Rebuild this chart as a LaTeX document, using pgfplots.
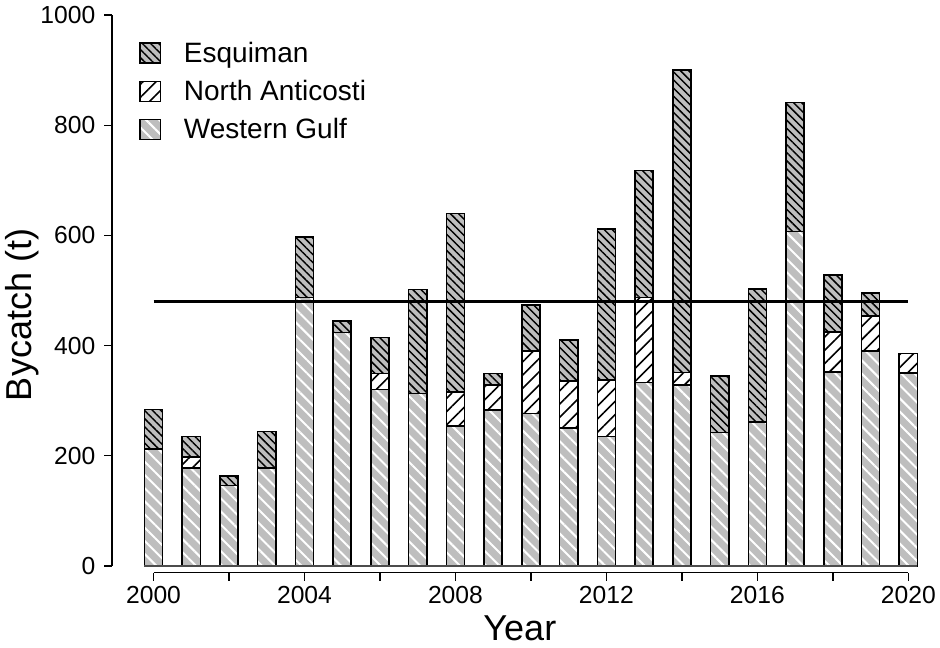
\documentclass[border=0pt]{standalone}
\usepackage{fontspec}
\setmainfont{Liberation Sans}
\usepackage{pgfplots}
\usepackage{pgfplotstable}
\pgfplotsset{compat=1.18}
\usetikzlibrary{patterns.meta}
\definecolor{barfill}{RGB}{190,190,190}

\pgfplotstableread{
year wg na es
2000 212 0 72
2001 178 20 37
2002 146 0 17
2003 178 0 66
2004 487 0 110
2005 424 0 21
2006 320 29 66
2007 313 0 189
2008 254 62 324
2009 283 45 21
2010 277 113 84
2011 250 86 74
2012 235 103 274
2013 333 154 231
2014 328 23 549
2015 242 0 103
2016 261 0 242
2017 607 0 234
2018 352 73 103
2019 390 64 41
2020 350 36 0
}\datatable

\pgfplotstableread{
x y
2000 480
2020 480
}\meanline

\begin{document}
\begin{tikzpicture}
\path[use as bounding box] (-84pt,-55.8pt) rectangle (621pt,429.45pt);
\begin{axis}[
  at={(0,0)}, anchor=south west,
  scale only axis, width=614.25pt, height=418.2pt,
  xmin=1998.9, xmax=2020.6, ymin=-12, ymax=1000,
  ybar stacked, bar width=0.48,
  axis lines=left, axis line style={draw=none},
  tick align=outside, major tick length=6pt,
  tick style={black, line width=1pt},
  xtick={2000,2002,...,2020},
  xticklabels={2000,,2004,,2008,,2012,,2016,,2020},
  ytick={0,200,400,600,800,1000},
  yticklabels={0,200,400,600,800,1000},
  ticklabel style={font=\fontsize{18.5}{20}\selectfont, black},
  yticklabel style={xshift=-3pt},
  xticklabel style={yshift=-1pt},
  xlabel={Year}, ylabel={Bycatch (t)},
  label style={font=\fontsize{27}{30}\selectfont},
  xlabel style={at={(axis description cs:0.498,-0.099)}, anchor=center},
  ylabel style={at={(axis description cs:-0.110,0.462)}, anchor=center},
  reverse legend,
  legend cell align=left,
  legend style={draw=none, fill=none, at={(rel axis cs:0.033,0.957)}, anchor=north west,
    font=\fontsize{21}{23}\selectfont, row sep=8pt, inner sep=0pt,
    /tikz/every odd column/.append style={column sep=15pt}},
  legend image code/.code={\draw[#1, line width=1pt] (0pt,-7.5pt) rectangle (15.5pt,7.5pt);},
]
\addplot[draw=black, line width=1.2pt, fill=barfill,
  postaction={pattern={Lines[angle=-45,distance=7pt,line width=1.5pt]}, pattern color=white}]
  table[x=year,y=wg] {\datatable};
\addlegendentry{Western Gulf}
\addplot[draw=black, line width=1.2pt, fill=white,
  postaction={pattern={Lines[angle=45,distance=7pt,line width=1.2pt]}, pattern color=black}]
  table[x=year,y=na] {\datatable};
\addlegendentry{North Anticosti}
\addplot[draw=black, line width=1.2pt, fill=barfill,
  postaction={pattern={Lines[angle=-45,distance=4.3pt,line width=1.1pt]}, pattern color=black}]
  table[x=year,y=es] {\datatable};
\addlegendentry{Esquiman}
\end{axis}
\begin{axis}[
  at={(0,0)}, anchor=south west,
  scale only axis, width=614.25pt, height=418.2pt,
  xmin=1998.9, xmax=2020.6, ymin=-12, ymax=1000,
  hide axis, clip=false,
]
\addplot[black, line width=2.6pt, mark=none] table[x=x,y=y] {\meanline};
\addplot[black, line width=1.2pt, mark=none] coordinates {(1998.9,0) (1998.9,1000)};
\addplot[black, line width=1.2pt, mark=none] coordinates {(2000,-12) (2020,-12)};
\addplot[black!70, line width=0.8pt, mark=none] coordinates {(1999.76,0) (2020.24,0)};
\end{axis}
\end{tikzpicture}
\end{document}
